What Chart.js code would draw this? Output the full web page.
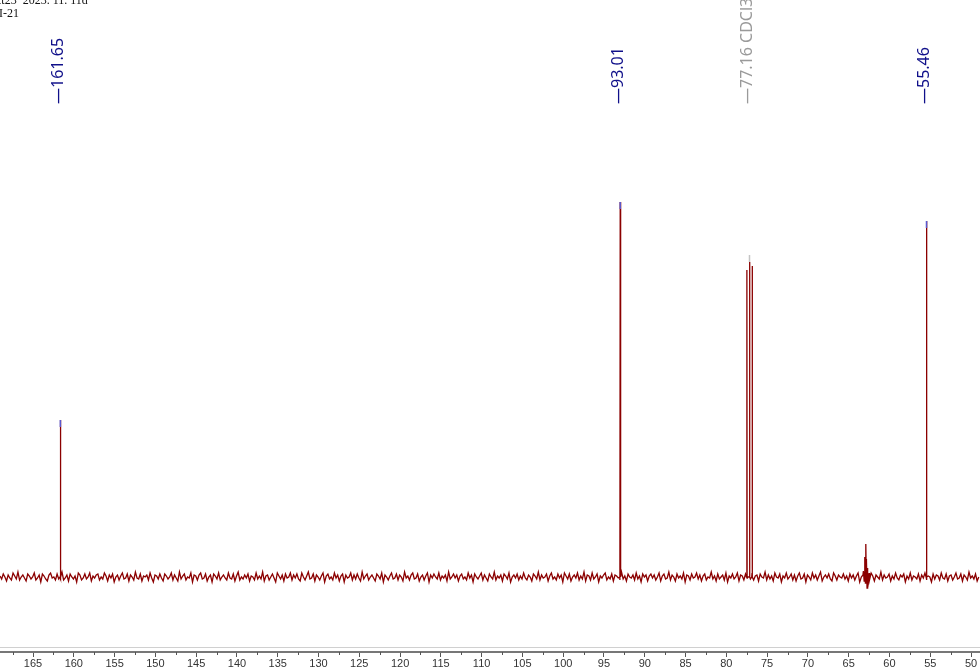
<!DOCTYPE html>
<html>
<head>
<meta charset="utf-8">
<script src="https://cdn.jsdelivr.net/npm/chart.js@4.4.1/dist/chart.umd.min.js"></script>
<style>
  html, body { margin: 0; padding: 0; background: #fff; }
  canvas { display: block; }
</style>
</head>
<body>
<canvas id="nmrChart" width="980" height="670"></canvas>
<script>
// ppm range shown (axis is reversed, high ppm on the left)
const ppmLeft = 169.05;
const ppmRight = 48.9;
const tickStep = 5;

// peak list (intensity in arbitrary units, baseline = 0)
const peakPpm    = [161.65, 93.01, 77.48, 77.16, 76.84, 55.46];
const peakHeight = [157,    375,   307,   315,   311,   356];

// small impurity cluster near 63 ppm
const clusterPpm    = [63.2, 63.1, 63.0, 62.95, 62.9, 62.85, 62.8, 62.75, 62.7, 62.6, 62.5];
const clusterHeight = [6,    -4,   20,   -6,    33,   12,    18,   -11,   9,    -5,   4];

// labelled peaks at the top
const labelPpm  = [161.65, 93.01, 77.16, 55.46];
const labelText = ['161.65', '93.01', '77.16 CDCl3', '55.46'];

// baseline noise, one value every 0.2 ppm starting at ppmLeft
const noiseStep = 0.2;
const noise = [
  1,-2,3,0,-4,2,-1,-3,4,1,-2,5,-3,0,2,-1,-4,3,1,-2,
  0,4,-3,-1,2,-5,3,1,-2,-4,2,4,-1,0,-3,3,-2,1,5,-3,
  -1,2,-4,3,0,-2,1,-5,4,2,-3,-1,3,-2,0,4,-4,1,-1,2,
  3,-3,0,-2,4,1,-4,2,-1,3,-5,0,2,-3,1,4,-2,-1,3,-4,
  2,0,-3,5,-1,-2,3,-4,1,0,2,-3,4,-1,-5,2,1,-2,3,-1,
  -4,3,1,-2,0,4,-3,2,-1,-4,5,-2,1,3,-3,0,-1,4,-5,2,
  1,-3,2,4,-2,-1,3,-4,0,2,-5,3,1,-2,4,-3,0,2,-1,-3,
  4,-1,-2,3,-4,1,5,-3,0,-2,2,-1,3,-4,1,0,-3,4,-2,1,
  -2,5,-4,1,2,-3,0,3,-1,-5,4,1,-2,2,-4,3,-1,0,4,-3,
  2,-1,3,-2,-4,4,0,-3,1,5,-2,-1,3,-4,2,0,-3,1,4,-5,
  1,3,-2,0,-3,4,-1,2,-4,1,3,-5,2,-1,0,4,-3,2,-2,3,
  -1,-4,5,-2,1,3,-3,0,2,-1,-4,3,1,-2,4,-5,2,0,-3,1,
  4,-2,-1,3,-3,2,0,-4,5,-1,1,-3,2,4,-2,-1,3,-4,0,2,
  -3,1,4,-5,2,-1,3,0,-2,4,-3,1,-1,2,-4,5,-2,0,3,-1,
  2,-4,1,3,-2,0,-3,4,-1,2,-5,3,0,-2,1,4,-3,2,-1,-4,
  3,0,-2,5,-3,1,-1,2,-4,3,1,-2,4,-5,0,2,-1,3,-3,1,
  -2,4,-1,-3,2,0,-4,3,1,-2,5,-3,2,-1,0,3,-4,1,4,-2,
  0,-3,3,-1,2,-5,4,1,-2,3,-4,0,2,-1,4,-3,1,-2,5,-4,
  2,1,-3,4,-2,0,3,-5,1,-1,2,4,-3,0,-2,3,-4,2,1,-1,
  -3,5,-2,1,-4,3,0,-1,2,-3,4,-2,1,-5,3,0,2,-4,1,3,
  -1,2,-3,0,4,-4,1,3,-2,-1,5,-3,2,0,-4,3,-1,1,-2,4,
  -5,2,1,-3,3,-1,0,4,-2,2,-4,1,3,-3,0,-1,5,-2,1,-4,
  3,-2,0,2,-3,4,-5,1,-1,3,-2,0,4,-4,2,1,-3,3,-1,0,
  -2,4,-3,1,2,-4,3,0,-1,5,-3,2,-2,1,-4,4,0,-1,3,-5,
  1,-1,4,-2,0,3,-3,2,-4,1,4,-2,-1,3,-5,2,0,-3,4,-1,
  2,-3,1,5,-4,0,2,-1,3,-2,-4,4,1,-3,2,0,-1,3,-2,1,
  -4,3,-1,2,-3,1,4,-5,0,2,-2,3,-1,-3,4,1,-4,2,0,-2,
  5,-3,2,-1,0,3,-4,1,-2,4,-1,-3,2,0,3,-5,1,-2,4,-3,
  1,0,-2,3,-4,2,-1,4,-3,1,0,-5,3,-2,2,1,-3,4,-1,-2,
  3,-4,1,2,-3,0,4,-2,-1,3,-4,2,0,-3,5,-1,1,-2,3,-4,
  0
];

// build the spectrum trace: noise points + each peak as a narrow spike
const trace = noise.map((v, i) => ({ x: ppmLeft - i * noiseStep, y: v }));
peakPpm.forEach((p, i) => {
  trace.push({ x: p + 0.05, y: 0 }, { x: p, y: peakHeight[i] }, { x: p - 0.05, y: 0 });
});
clusterPpm.forEach((p, i) => trace.push({ x: p, y: clusterHeight[i] }));
trace.sort((a, b) => b.x - a.x);

// coloured tips on top of the picked peaks
const tipDatasets = labelPpm.map((p, i) => {
  const k = peakPpm.indexOf(p);
  const solvent = labelText[i].indexOf('CDCl3') >= 0;
  const top = solvent ? peakHeight[k] + 7 : peakHeight[k];
  return {
    data: [{ x: p, y: top }, { x: p, y: top - 7 }],
    borderColor: solvent ? '#c4c4c4' : '#5a5ad0',
    borderWidth: 1.5,
    pointRadius: 0,
    showLine: true,
    order: 0
  };
});

// draws the rotated peak labels, minor ticks and header text
const overlayPlugin = {
  id: 'overlay',
  afterDraw(chart) {
    const ctx = chart.ctx;
    const xs = chart.scales.x;
    const area = chart.chartArea;
    ctx.save();

    // light frame line above the axis
    ctx.strokeStyle = '#d0d0d0';
    ctx.lineWidth = 1;
    ctx.beginPath();
    ctx.moveTo(0, area.bottom - 4.5);
    ctx.lineTo(chart.width, area.bottom - 4.5);
    ctx.stroke();

    // minor ticks
    ctx.strokeStyle = '#555';
    ctx.beginPath();
    for (let v = 167.5; v > ppmRight; v -= tickStep) {
      const px = Math.round(xs.getPixelForValue(v)) + 0.5;
      ctx.moveTo(px, area.bottom);
      ctx.lineTo(px, area.bottom + 3);
    }
    ctx.stroke();

    // peak labels
    ctx.font = '16px "Noto Sans"';
    ctx.textAlign = 'left';
    ctx.textBaseline = 'middle';
    labelPpm.forEach((p, i) => {
      const px = xs.getPixelForValue(p) - 2;
      const solvent = labelText[i].indexOf('CDCl3') >= 0;
      ctx.fillStyle = solvent ? '#9a9a9a' : '#10108a';
      ctx.save();
      ctx.translate(px, 104);
      ctx.rotate(-Math.PI / 2);
      ctx.fillText('\u2014' + labelText[i], 0, 0);
      ctx.restore();
    });

    // header text (cut off at the top left)
    ctx.fillStyle = '#111';
    ctx.font = '12px "Liberation Serif"';
    ctx.textBaseline = 'alphabetic';
    ctx.fillText('ct23  2023. 11. 11d', -4, 4);
    ctx.fillText('I-21', -1, 17);
    ctx.restore();
  }
};

new Chart(document.getElementById('nmrChart'), {
  type: 'scatter',
  data: {
    datasets: [
      {
        data: trace,
        borderColor: '#8b0000',
        borderWidth: 1.3,
        pointRadius: 0,
        showLine: true,
        tension: 0,
        order: 1
      },
      ...tipDatasets
    ]
  },
  options: {
    responsive: false,
    animation: false,
    devicePixelRatio: 1,
    layout: { padding: 0 },
    plugins: {
      legend: { display: false },
      tooltip: { enabled: false }
    },
    scales: {
      x: {
        type: 'linear',
        reverse: true,
        min: ppmRight,
        max: ppmLeft,
        afterFit: (s) => { s.height = 18; },
        border: { display: true, color: '#777', width: 2 },
        grid: { drawOnChartArea: false, tickLength: 5, color: '#555' },
        ticks: {
          stepSize: tickStep,
          includeBounds: false,
          maxRotation: 0,
          autoSkip: false,
          padding: 0,
          color: '#333',
          font: { family: '"Liberation Sans"', size: 11 }
        }
      },
      y: {
        display: false,
        min: -75,
        max: 577
      }
    }
  },
  plugins: [overlayPlugin]
});
</script>
</body>
</html>
